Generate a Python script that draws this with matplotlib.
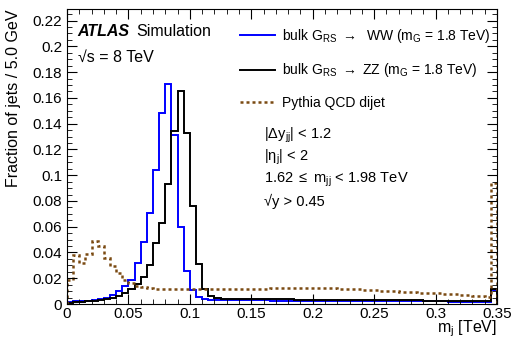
import numpy as np
import matplotlib
matplotlib.use('Agg')
import matplotlib.pyplot as plt
from matplotlib.ticker import MultipleLocator, FuncFormatter

plt.rcParams['font.family'] = ['Liberation Sans', 'DejaVu Sans']
plt.rcParams['mathtext.fontset'] = 'custom'
plt.rcParams['mathtext.rm'] = 'Liberation Sans'
plt.rcParams['mathtext.it'] = 'Liberation Sans'
plt.rcParams['mathtext.default'] = 'regular'

# jet mass bins, 5 GeV wide, 0 - 0.35 TeV
bin_edges = np.linspace(0.0, 0.35, 71)

ww = [0.0015, 0.002, 0.002, 0.0025, 0.003, 0.0035, 0.0045, 0.007, 0.0103, 0.014,
      0.019, 0.0315, 0.048, 0.071, 0.104, 0.148, 0.171, 0.131, 0.060, 0.0258,
      0.011, 0.0057, 0.0035, 0.003, 0.003, 0.003, 0.003, 0.003, 0.003, 0.003,
      0.0028, 0.0028, 0.0028, 0.0027, 0.0027, 0.0027, 0.0027, 0.0026, 0.0026, 0.0026,
      0.0026, 0.0026, 0.0025, 0.0025, 0.0025, 0.0025, 0.0024, 0.0024, 0.0024, 0.0023,
      0.0023, 0.0023, 0.0022, 0.0022, 0.0022, 0.0021, 0.0021, 0.0021, 0.002, 0.002,
      0.002, 0.002, 0.0019, 0.0019, 0.0019, 0.0018, 0.0018, 0.0018, 0.0018, 0.011]

zz = [0.001, 0.0015, 0.0015, 0.002, 0.0025, 0.003, 0.0035, 0.0045, 0.006, 0.0085,
      0.012, 0.0155, 0.021, 0.030, 0.047, 0.063, 0.093, 0.134, 0.165, 0.133,
      0.076, 0.031, 0.012, 0.006, 0.0045, 0.004, 0.004, 0.004, 0.0038, 0.0038,
      0.0037, 0.0037, 0.0036, 0.0036, 0.0035, 0.0035, 0.0035, 0.0034, 0.0034, 0.0034,
      0.0034, 0.0033, 0.0033, 0.0033, 0.0032, 0.0032, 0.0032, 0.0031, 0.0031, 0.003,
      0.003, 0.003, 0.0029, 0.0029, 0.0029, 0.0028, 0.0028, 0.0028, 0.0027, 0.0027,
      0.0027, 0.0026, 0.0026, 0.0026, 0.0025, 0.0025, 0.0025, 0.0025, 0.0025, 0.012]

qcd = [0.0186, 0.038, 0.032, 0.039, 0.049, 0.045, 0.036, 0.0295, 0.024, 0.0186,
       0.016, 0.014, 0.013, 0.0125, 0.012, 0.012, 0.012, 0.0118, 0.0117, 0.0116,
       0.0115, 0.0115, 0.0115, 0.0115, 0.0116, 0.0116, 0.0117, 0.0117, 0.0118, 0.0118,
       0.0119, 0.012, 0.012, 0.0121, 0.0122, 0.0122, 0.0123, 0.0123, 0.0124, 0.0124,
       0.0124, 0.0123, 0.0122, 0.0121, 0.012, 0.0118, 0.0116, 0.0114, 0.0112, 0.011,
       0.0107, 0.0104, 0.0101, 0.0098, 0.0095, 0.0092, 0.009, 0.0088, 0.0086, 0.0084,
       0.0082, 0.008, 0.0077, 0.0074, 0.0071, 0.0068, 0.0065, 0.0062, 0.0058, 0.094]

legend_labels = [r'bulk G$_{RS}$ $\rightarrow$  WW (m$_G$ = 1.8 TeV)',
                 r'bulk G$_{RS}$ $\rightarrow$ ZZ (m$_G$ = 1.8 TeV)',
                 'Pythia QCD dijet']
cut_lines = [r'|$\Delta$y$_{jj}$| < 1.2',
             r'|$\eta_j$| < 2',
             r'1.62 $\leq$ m$_{jj}$ < 1.98 TeV',
             '√y > 0.45']

fig = plt.figure(figsize=(5.16, 3.41), dpi=100)
ax = fig.add_axes([0.1298, 0.1085, 0.8334, 0.8651])

ax.stairs(ww, bin_edges, color='#0000ff', lw=1.4, label=legend_labels[0])
ax.stairs(zz, bin_edges, color='black', lw=1.4, label=legend_labels[1])
ax.stairs(qcd, bin_edges, color='#7a4a12', lw=1.8, ls=(0, (1.2, 1.2)),
          label=legend_labels[2])

ax.set_xlim(0, 0.35)
ax.set_ylim(0, 0.229)
ax.xaxis.set_major_locator(MultipleLocator(0.05))
ax.xaxis.set_minor_locator(MultipleLocator(0.01))
ax.yaxis.set_major_locator(MultipleLocator(0.02))
ax.yaxis.set_minor_locator(MultipleLocator(0.005))
ax.xaxis.set_major_formatter(FuncFormatter(lambda v, p: f'{v:g}'))
ax.yaxis.set_major_formatter(FuncFormatter(lambda v, p: f'{v:g}'))
ax.tick_params(which='both', direction='in', top=True, right=True, labelsize=11)
ax.tick_params(which='major', length=7)
ax.tick_params(which='minor', length=3.5)
ax.tick_params(axis='x', pad=2)

ax.set_xlabel('m$_j$ [TeV]', fontsize=11.5, loc='right', labelpad=-1.5)
ax.set_ylabel('Fraction of jets / 5.0 GeV', fontsize=11.5, loc='top', labelpad=8)

ax.text(0.025, 0.925, 'ATLAS', transform=ax.transAxes, fontsize=11.5,
        fontweight='bold', fontstyle='italic', va='center')
ax.text(0.16, 0.925, 'Simulation', transform=ax.transAxes, fontsize=11.5, va='center')
ax.text(0.025, 0.835, '√s = 8 TeV', transform=ax.transAxes, fontsize=11.5, va='center')

for i, line in enumerate(cut_lines):
    ax.text(0.457, 0.573 - i * 0.0756, line, transform=ax.transAxes, fontsize=10.5,
            va='center')

ax.legend(loc='upper left', bbox_to_anchor=(0.402, 0.94), frameon=False,
          borderpad=0, borderaxespad=0,
          fontsize=10, handlelength=2.5, handletextpad=0.5, labelspacing=1.2)

fig.savefig('out.png', dpi=100)
